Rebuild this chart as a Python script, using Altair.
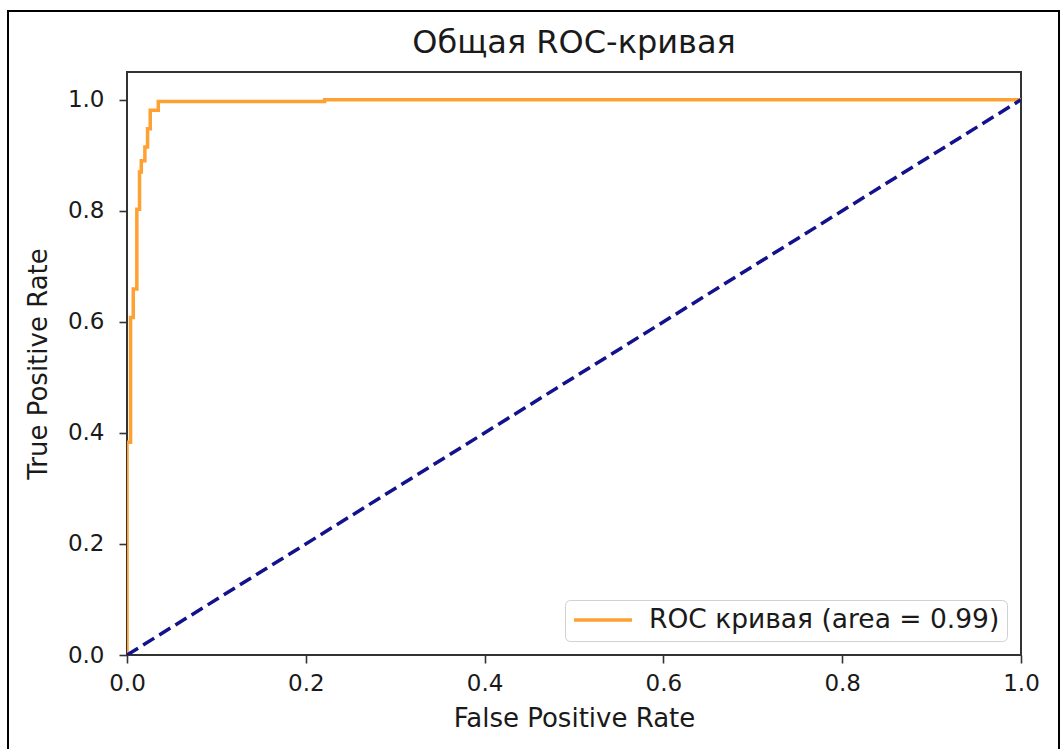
import altair as alt
import pandas as pd

fpr = [0.0, 0.0, 0.004, 0.004, 0.007, 0.007, 0.011, 0.011, 0.014, 0.014, 0.016, 0.016,
       0.020, 0.020, 0.023, 0.023, 0.026, 0.026, 0.035, 0.035, 0.221, 0.221, 1.0]
tpr = [0.0, 0.383, 0.383, 0.608, 0.608, 0.659, 0.659, 0.803, 0.803, 0.870, 0.870, 0.890,
       0.890, 0.915, 0.915, 0.948, 0.948, 0.981, 0.981, 0.997, 0.997, 1.0, 1.0]
diag_x = [0.0, 1.0]
diag_y = [0.0, 1.0]
legend_label = "ROC кривая (area = 0.99)"
x_ticks = [0.0, 0.2, 0.4, 0.6, 0.8, 1.0]
y_ticks = [0.0, 0.2, 0.4, 0.6, 0.8, 1.0]

roc = pd.DataFrame({"fpr": fpr, "tpr": tpr, "i": list(range(len(fpr))),
                    "label": [legend_label] * len(fpr)})
diag = pd.DataFrame({"fpr": diag_x, "tpr": diag_y})

FONT = "DejaVu Sans"
W, H = 894, 583

xscale = alt.Scale(domain=[0, 1], nice=False, zero=False)
yscale = alt.Scale(domain=[0, 1.05], nice=False, zero=False)

xenc = alt.X("fpr:Q", scale=xscale,
             axis=alt.Axis(title="False Positive Rate", values=x_ticks, format=".1f",
                           labelPadding=9, titlePadding=10))
yenc = alt.Y("tpr:Q", scale=yscale,
             axis=alt.Axis(title="True Positive Rate", values=y_ticks, format=".1f",
                           labelPadding=15, titlePadding=16))

frame = alt.Chart(pd.DataFrame({"a": [0]})).mark_rect(
    fill=None, stroke="#000000", strokeWidth=2, clip=False
).encode(x=alt.value(-119), x2=alt.value(932), y=alt.value(-61), y2=alt.value(700))

diag_line = alt.Chart(diag).mark_line(
    color="#12128c", strokeWidth=3.5, strokeDash=[13, 6], clip=True
).encode(x=xenc, y=yenc)

roc_line = alt.Chart(roc).mark_line(strokeWidth=3.5, clip=True).encode(
    x=xenc, y=yenc, order=alt.Order("i:Q"),
    color=alt.Color("label:N",
                    scale=alt.Scale(domain=[legend_label], range=["#ffa033"]),
                    legend=alt.Legend(title=None, orient="bottom-right", offset=14,
                                      symbolType="stroke", symbolSize=3364,
                                      symbolStrokeWidth=3.5, labelFontSize=26.5,
                                      labelFont=FONT, labelColor="#1a1a1a",
                                      labelOffset=15, padding=7, labelLimit=1000,
                                      clipHeight=26,
                                      strokeColor="#d0d0d0", cornerRadius=5,
                                      fillColor="#ffffff"))
)

chart = alt.layer(frame, roc_line, diag_line).properties(
    width=W, height=H,
    background="#ffffff",
    title=alt.TitleParams("Общая ROC-кривая", font=FONT, fontSize=32,
                          fontWeight="normal", color="#1a1a1a", offset=-50,
                          anchor="middle"),
    padding={"left": 127, "top": 72, "right": 40, "bottom": 94},
    autosize=alt.AutoSizeParams(type="none"),
).configure_view(
    stroke="#333333", strokeWidth=2
).configure_axis(
    grid=False, domain=False, labelFont=FONT, labelFontSize=23, labelColor="#1a1a1a",
    titleFont=FONT, titleFontSize=26, titleFontWeight="normal", titleColor="#1a1a1a",
    tickSize=8, tickWidth=1.6, tickColor="#333333",
    labelFlush=False
)

chart.save("out.html", embed_options={"renderer": "svg", "actions": False})
